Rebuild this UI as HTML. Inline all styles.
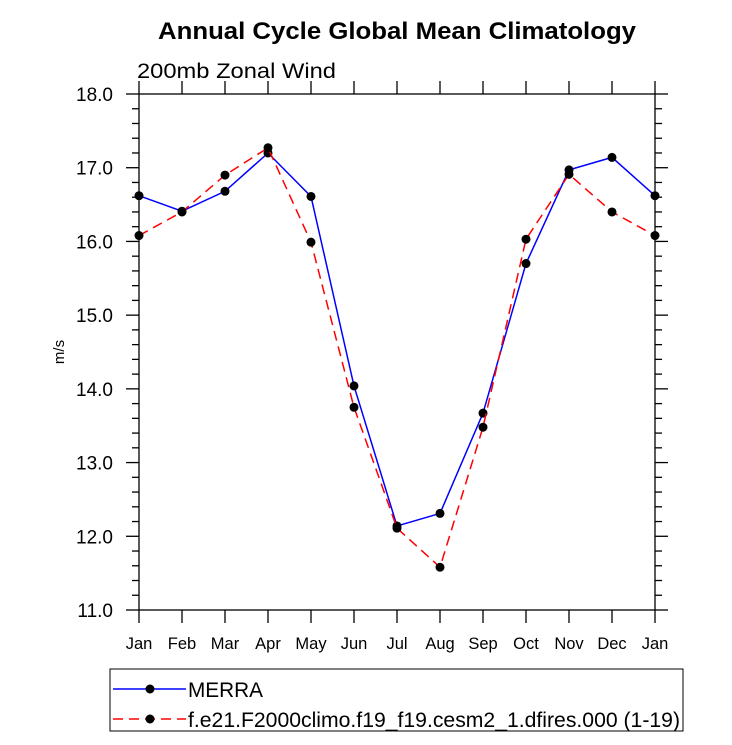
<!DOCTYPE html>
<html><head><meta charset="utf-8"><style>body{margin:0;background:#fff}svg{display:block;font-family:"Liberation Sans",sans-serif}</style></head>
<body>
<svg id="c" width="732" height="745">
<text x="158" y="39" textLength="478" lengthAdjust="spacingAndGlyphs" font-size="24" font-weight="bold">Annual Cycle Global Mean Climatology</text>
<text x="137" y="78" textLength="199" lengthAdjust="spacingAndGlyphs" font-size="21">200mb Zonal Wind</text>
<text transform="translate(64,352) rotate(-90)" text-anchor="middle" font-size="15">m/s</text>
<g id="axes"></g>
<g id="series"></g>
<rect x="110" y="669" width="573" height="62" fill="none" stroke="#000" stroke-width="1"/>
<g>
<line x1="113" y1="689" x2="186" y2="689" stroke="#00f" stroke-width="1.5"/>
<circle cx="150" cy="689" r="4.5" fill="#000"/>
<text x="188" y="697" textLength="75" lengthAdjust="spacingAndGlyphs" font-size="21">MERRA</text></g>
<g>
<line x1="113" y1="719" x2="186" y2="719" stroke="#f00" stroke-width="1.5" stroke-dasharray="10,6"/>
<circle cx="150" cy="719" r="4.5" fill="#000"/>
<text x="188" y="727" textLength="492" lengthAdjust="spacingAndGlyphs" font-size="21">f.e21.F2000climo.f19_f19.cesm2_1.dfires.000 (1-19)</text></g>
</svg>
<script>
const months=["Jan","Feb","Mar","Apr","May","Jun","Jul","Aug","Sep","Oct","Nov","Dec","Jan"];
const yTicks=[11,12,13,14,15,16,17,18];
const yTickLabels=["11.0","12.0","13.0","14.0","15.0","16.0","17.0","18.0"];
const merra=[16.62,16.41,16.68,17.2,16.61,14.04,12.14,12.31,13.67,15.7,16.97,17.14,16.62];
const model=[16.08,16.4,16.9,17.27,15.99,13.75,12.11,11.58,13.48,16.03,16.91,16.4,16.08];
const X0=139,X1=655,Y0=610,Y1=94,ymin=11,ymax=18;
const xs=i=>X0+(X1-X0)*i/(months.length-1);
const ys=v=>Y0-(Y0-Y1)*(v-ymin)/(ymax-ymin);
const NS="http://www.w3.org/2000/svg";
function mk(p,t,a){const e=document.createElementNS(NS,t);for(const k in a)e.setAttribute(k,a[k]);p.appendChild(e);return e;}
const ax=document.getElementById('axes');
const fr=mk(ax,'rect',{x:X0,y:Y1,width:X1-X0,height:Y0-Y1,fill:'none',stroke:'#000','stroke-width':1.3});


months.forEach((m,i)=>{
  const x=xs(i);
  mk(ax,'line',{x1:x,y1:Y0,x2:x,y2:Y0+13,stroke:'#000','stroke-width':1.3});
  mk(ax,'line',{x1:x,y1:Y1,x2:x,y2:Y1-13,stroke:'#000','stroke-width':1.3});
  const t=mk(ax,'text',{x:x,y:649,'text-anchor':'middle','font-size':16.5});
  t.textContent=m;
  
  
});
for(let v=ymin;v<=ymax+1e-6;v+=0.2){
  const y=ys(v);const major=Math.abs(v-Math.round(v))<1e-6;const L=major?13:7;
  mk(ax,'line',{x1:X0-L,y1:y,x2:X0,y2:y,stroke:'#000','stroke-width':1.3});
  mk(ax,'line',{x1:X1,y1:y,x2:X1+L,y2:y,stroke:'#000','stroke-width':1.3});
}
yTicks.forEach((v,i)=>{
  const t=mk(ax,'text',{x:113,y:ys(v)+7,'text-anchor':'end','font-size':19});
  t.textContent=yTickLabels[i];
  
  
});
const sg=document.getElementById('series');
function series(d,col,dash,name){
  const g=mk(sg,'g',{});
  
  
  const a={points:d.map((v,i)=>xs(i)+','+ys(v)).join(' '),fill:'none',stroke:col,'stroke-width':1.5};
  if(dash)a['stroke-dasharray']=dash;
  mk(g,'polyline',a);
  d.forEach((v,i)=>{const c=mk(g,'circle',{cx:xs(i),cy:ys(v),r:4.5,fill:'#000'});
    
    });
}
series(merra,'#00f',null,'series-merra');
series(model,'#f00','10,6','series-model');
</script>
</body></html>
